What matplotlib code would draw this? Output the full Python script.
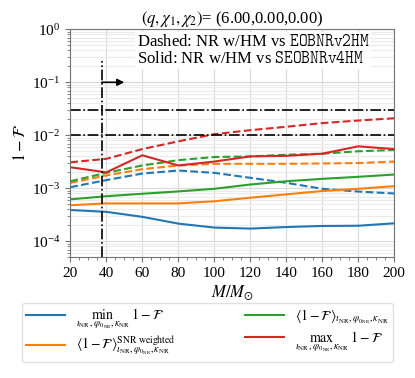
import numpy as np
import matplotlib
matplotlib.use("Agg")
import matplotlib.pyplot as plt

plt.rcParams['font.family'] = ['Liberation Serif', 'DejaVu Serif']
plt.rcParams['mathtext.fontset'] = 'stix'

# Total mass grid
mass = [20, 40, 60, 80, 100, 120, 140, 160, 180, 200]

# Dashed: NR w/HM vs EOBNRv2HM
min_eob = [1.05e-3, 1.43e-3, 1.9e-3, 2.17e-3, 1.96e-3, 1.58e-3, 1.27e-3, 0.98e-3, 0.87e-3, 0.8e-3]
snr_eob = [1.27e-3, 1.75e-3, 2.3e-3, 2.7e-3, 2.9e-3, 2.9e-3, 2.9e-3, 2.95e-3, 3.0e-3, 3.2e-3]
avg_eob = [1.36e-3, 1.96e-3, 2.7e-3, 3.4e-3, 3.9e-3, 4.0e-3, 4.3e-3, 4.5e-3, 5.0e-3, 5.3e-3]
max_eob = [3.1e-3, 3.6e-3, 5.5e-3, 7.7e-3, 1.05e-2, 1.25e-2, 1.45e-2, 1.7e-2, 1.9e-2, 2.1e-2]

# Solid: NR w/HM vs SEOBNRv4HM
min_seob = [3.9e-4, 3.6e-4, 2.9e-4, 2.16e-4, 1.82e-4, 1.74e-4, 1.86e-4, 1.95e-4, 1.97e-4, 2.19e-4]
snr_seob = [4.8e-4, 5.2e-4, 5.2e-4, 5.2e-4, 5.7e-4, 6.65e-4, 7.7e-4, 8.9e-4, 9.8e-4, 1.1e-3]
avg_seob = [6.2e-4, 7.1e-4, 7.9e-4, 8.75e-4, 9.8e-4, 1.18e-3, 1.36e-3, 1.51e-3, 1.65e-3, 1.82e-3]
max_seob = [2.5e-3, 2.0e-3, 4.2e-3, 2.7e-3, 3.2e-3, 4.0e-3, 4.1e-3, 4.5e-3, 6.2e-3, 5.5e-3]

m_cut = 37.5
thresholds = [0.01, 0.03]

sub = r"\iota_{\rm NR},\varphi_{0_{\rm NR}},\kappa_{\rm NR}"
labels = [
    r"$\min_{" + sub + r"}\ 1-\mathcal{F}$",
    r"$\langle 1-\mathcal{F}\rangle^{\rm SNR\ weighted}_{" + sub + r"}$",
    r"$\langle 1-\mathcal{F}\rangle_{" + sub + r"}$",
    r"$\max_{" + sub + r"}\ 1-\mathcal{F}$",
]
colors = ['#1f77b4', '#ff7f0e', '#2ca02c', '#d62728']

fig = plt.figure(figsize=(4.15, 3.78), dpi=100)
ax = fig.add_axes([0.1694, 0.3193, 0.7807, 0.6032])

handles = []
for dashed, solid, c, lab in zip([min_eob, snr_eob, avg_eob, max_eob],
                                 [min_seob, snr_seob, avg_seob, max_seob],
                                 colors, labels):
    ax.plot(mass, dashed, '--', color=c, lw=1.5)
    h, = ax.plot(mass, solid, '-', color=c, lw=1.5, label=lab)
    handles.append(h)

for t in thresholds:
    ax.axhline(t, color='k', ls='-.', lw=1.2)
ax.plot([m_cut, m_cut], [5e-5, 0.25], color='k', ls='-.', lw=1.2)
ax.annotate('', xy=(50, 0.1), xytext=(m_cut, 0.1),
            arrowprops=dict(arrowstyle='-|>', color='k', lw=1.2, shrinkA=0, shrinkB=0))

ax.set_yscale('log')
ax.set_xlim(20, 200)
ax.set_ylim(5e-5, 1)
ax.set_xticks(np.arange(20, 201, 20))
ax.set_xticks(np.arange(20, 201, 5), minor=True)
ax.grid(which='major', color='0.85', lw=0.8)
ax.yaxis.grid(which='minor', color='0.92', lw=0.8)
ax.set_axisbelow(True)
for s in ax.spines.values():
    s.set_color('0.45')
ax.tick_params(which='both', colors='0.45', labelcolor='k', labelsize=11)

ax.set_xlabel(r"$M/M_{\odot}$", fontsize=12, labelpad=2)
ax.set_ylabel(r"$1-\mathcal{F}$", fontsize=12, labelpad=2)
ax.set_title(r"$(q,\chi_1,\chi_2)$= (6.00,0.00,0.00)", fontsize=12, pad=4)

ax.text(0.205, 0.98,
        "Dashed: NR w/HM vs $\\mathtt{EOBNRv2HM}$\nSolid: NR w/HM vs $\\mathtt{SEOBNRv4HM}$",
        transform=ax.transAxes, ha='left', va='top', fontsize=12, linespacing=1.1,
        bbox=dict(facecolor='white', edgecolor='none', pad=1.5))

fig.legend(handles=handles, loc='lower center', bbox_to_anchor=(0.5, 0.025), ncol=2,
           fontsize=10, frameon=True, edgecolor='0.85', columnspacing=5.0,
           handlelength=2.8, labelspacing=0.25, borderpad=0.3)

fig.savefig('out.png', dpi=100)
